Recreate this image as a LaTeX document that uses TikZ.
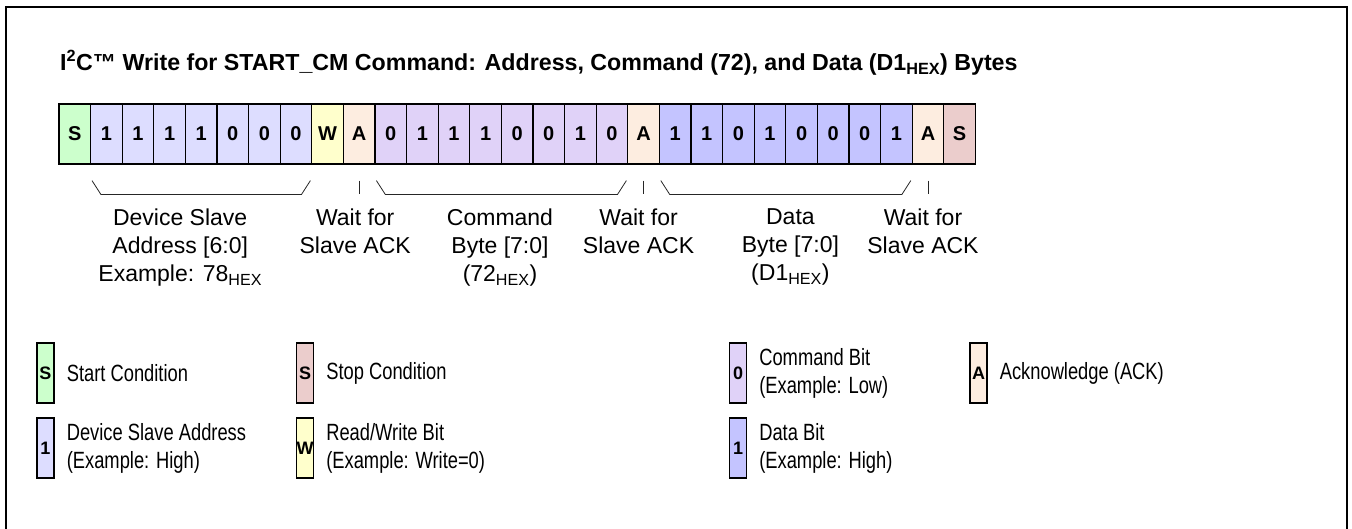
\documentclass[tikz,border=0pt]{standalone}
\usepackage{fontspec}
\setmainfont{Liberation Sans}
\newfontfamily\narrowsans[FakeStretch=0.78]{Liberation Sans}
\usepackage{tikz}
\usetikzlibrary{calc}
\definecolor{startc}{HTML}{CCFFCC}
\definecolor{addrc}{HTML}{DDDDFF}
\definecolor{rwc}{HTML}{FFFFCC}
\definecolor{ackc}{HTML}{FDEDE0}
\definecolor{cmdc}{HTML}{E0D2F8}
\definecolor{datac}{HTML}{C4C4FF}
\definecolor{stopc}{HTML}{EBCDCC}
\newcommand{\hexs}{\textsubscript{HEX}}
\newcommand{\bytebrk}[2]{%
  \draw[brk] ($(#1.south west)+(2,16)$) -- ($(#1.south west)+(11,30)$)
    -- ($(#2.south east)+(-11,30)$) -- ($(#2.south east)+(-2,16)$);}
\tikzset{
  frame/.style={draw=black, line width=2pt},
  bit/.style={draw=black, line width=1.2pt, minimum width=31.6pt, minimum height=60pt,
    inner sep=0pt, font=\bfseries\fontsize{20}{20}\selectfont},
  key/.style={draw=black, line width=1.2pt, minimum width=17pt, minimum height=60pt,
    inner sep=0pt, font=\bfseries\fontsize{18}{18}\selectfont},
  brk/.style={draw=black!85, line width=0.8pt},
  lab/.style={align=center, anchor=north, inner sep=0pt, font=\fontsize{23}{28}\selectfont},
  keylab/.style={align=left, anchor=west, inner sep=0pt, font=\narrowsans\fontsize{23.5}{28}\selectfont},
  ttl/.style={anchor=base west, inner sep=0pt, font=\bfseries\fontsize{23.2}{25}\selectfont}
}

\begin{document}
\begin{tikzpicture}[x=1pt, y=-1pt]
  \useasboundingbox (0,0) rectangle (1352,529);
  \draw[frame] (5.5,529) -- (5.5,7) -- (1347,7) -- (1347,529);

  \node[ttl] (title) at (60,71) {I\textsuperscript{2}C™ Write for START\_CM Command: Address, Command (72), and Data (D1\hexs) Bytes};

  \foreach \t/\c [count=\i from 0] in {S/startc,1/addrc,1/addrc,1/addrc,1/addrc,0/addrc,0/addrc,0/addrc,
      W/rwc,A/ackc,0/cmdc,1/cmdc,1/cmdc,1/cmdc,0/cmdc,0/cmdc,1/cmdc,0/cmdc,A/ackc,
      1/datac,1/datac,0/datac,1/datac,0/datac,0/datac,0/datac,1/datac,A/ackc,S/stopc}
    \node[bit, fill=\c] (c\i) at ({74.8+31.6*\i},134) {\t};

  \bytebrk{c1}{c7}
  \bytebrk{c10}{c17}
  \bytebrk{c19}{c26}
  \foreach \a in {9,18,27}
    \draw[brk] ($(c\a.south)+(0,16)$) -- ++(0,13);

  \node[lab] (laddr) at ($(c4.south)+(-21,44)$) {Device Slave\\Address [6:0]\\Example: 78\hexs};
  \node[lab] (lwait1) at ($(c9.south)+(-4,44)$) {Wait for\\Slave ACK};
  \node[lab] (lcmd) at ($(c13.south east)+(-2,44)$) {Command\\Byte [7:0]\\(72\hexs)};
  \node[lab] (lwait2) at ($(c18.south)+(-5,44)$) {Wait for\\Slave ACK};
  \node[lab] (ldata) at ($(c22.south east)+(4,44)$) {Data\\Byte [7:0]\\(D1\hexs)};
  \node[lab] (lwait3) at ($(c27.south)+(-5,44)$) {Wait for\\Slave ACK};

  \node[key, fill=startc] (kstart) at (45.5,373) {S};
  \node[keylab] at ($(kstart.east)+(12,0)$) {Start Condition};
  \node[key, fill=addrc] (kaddr) at (45.5,448) {1};
  \node[keylab] at ($(kaddr.east)+(12,0)$) {Device Slave Address\\(Example: High)};
  \node[key, fill=stopc] (kstop) at (305,373) {S};
  \node[keylab] at ($(kstop.east)+(12,0)$) {Stop Condition};
  \node[key, fill=rwc] (krw) at (305,448) {W};
  \node[keylab] at ($(krw.east)+(12,0)$) {Read/Write Bit\\(Example: Write=0)};
  \node[key, fill=cmdc] (kcmd) at (738,373) {0};
  \node[keylab] at ($(kcmd.east)+(12,0)$) {Command Bit\\(Example: Low)};
  \node[key, fill=datac] (kdata) at (738,448) {1};
  \node[keylab] at ($(kdata.east)+(12,0)$) {Data Bit\\(Example: High)};
  \node[key, fill=ackc] (kack) at (978.5,373) {A};
  \node[keylab] at ($(kack.east)+(12,0)$) {Acknowledge (ACK)};
\end{tikzpicture}
\end{document}
